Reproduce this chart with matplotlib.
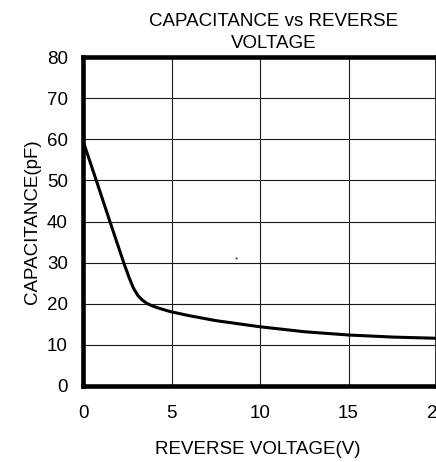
import matplotlib
matplotlib.use("Agg")
import matplotlib.pyplot as plt

voltage = [0, 0.75, 1.52, 2.30, 2.6, 2.85, 3.1, 3.35, 3.6, 3.9, 4.3, 4.93, 6.0, 7.5, 10, 12.5, 15, 17.5, 20]
capacitance = [59.6, 50, 40, 30, 26.4, 23.8, 22.0, 20.9, 20.1, 19.5, 18.9, 18.1, 17.1, 15.9, 14.4, 13.2, 12.4, 11.9, 11.6]
stray_v = [8.65]
stray_c = [31.1]
x_ticks = [0, 5, 10, 15, 20]
y_ticks = [0, 10, 20, 30, 40, 50, 60, 70, 80]

plt.rcParams['font.family'] = ['Liberation Sans', 'DejaVu Sans']
W, H = 436, 462
fig = plt.figure(figsize=(W / 100, H / 100), dpi=100)
left, right, top, bottom = 83, 437, 57, 386
ax = fig.add_axes([left / W, 1 - bottom / H, (right - left) / W, (bottom - top) / H])

ax.plot(voltage, capacitance, color='black', lw=2.2, solid_capstyle='butt',
        solid_joinstyle='round', zorder=3)
ax.plot(stray_v, stray_c, 's', color='#333333', ms=1.3, mew=0, zorder=3)

ax.set_xlim(0, 20)
ax.set_ylim(0, 80)
ax.set_xticks(x_ticks)
ax.set_yticks(y_ticks)
ax.set_xticklabels([str(v) for v in x_ticks])
ax.set_yticklabels([str(v) for v in y_ticks])
ax.grid(True, color='#1a1a1a', lw=0.8)
ax.tick_params(length=0, labelsize=13.5)
ax.tick_params(axis='y', pad=11)
ax.tick_params(axis='x', pad=14)
for s in ax.spines.values():
    s.set_linewidth(3.3)
    s.set_color('black')

fig.text(257.5 / W, 1 - 450 / H, 'REVERSE VOLTAGE(V)', ha='center', va='center', fontsize=13.5)
fig.text(33 / W, 1 - 221.5 / H, 'CAPACITANCE(pF)', ha='center', va='center', rotation=90, fontsize=13.5)
fig.text(273.5 / W, 1 - 21 / H, 'CAPACITANCE vs REVERSE', ha='center', va='center', fontsize=13.5)
fig.text(273.5 / W, 1 - 44 / H, 'VOLTAGE', ha='center', va='center', fontsize=13.5)

fig.savefig('out.png', dpi=100)
